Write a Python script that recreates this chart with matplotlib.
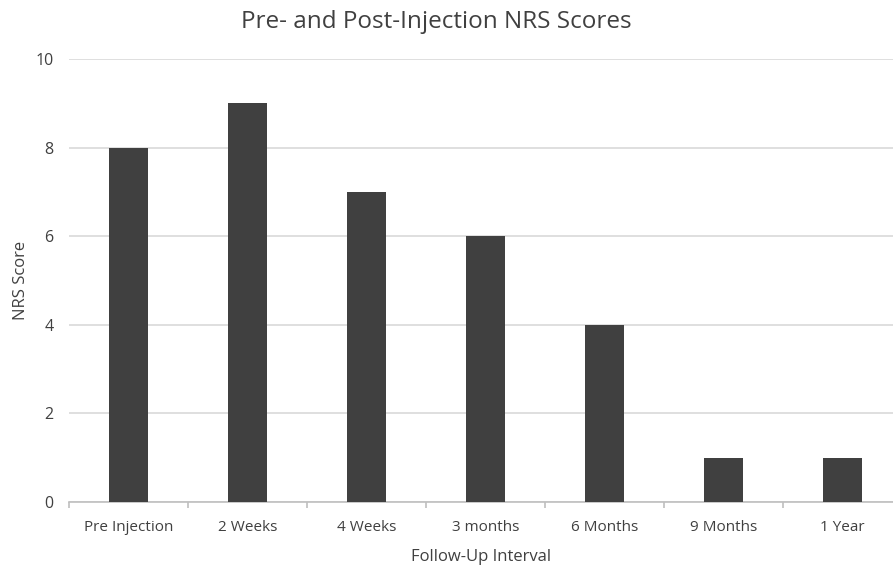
import matplotlib.pyplot as plt
import numpy as np

plt.rcParams['font.family'] = ['Open Sans', 'DejaVu Sans']

intervals = ['Pre Injection', '2 Weeks', '4 Weeks', '3 months', '6 Months', '9 Months', '1 Year']
nrs_scores = [8, 9, 7, 6, 4, 1, 1]

W, H = 893, 566
fig = plt.figure(figsize=(W / 100, H / 100), dpi=100)
ax = fig.add_axes([69 / W, (H - 502) / H, (W - 69) / W, (502 - 59) / H])

x = np.arange(len(intervals))
ax.bar(x, nrs_scores, width=0.32, color='#404040', zorder=3)

ax.set_yticks(np.arange(0, 11, 2))
ax.yaxis.grid(True, color='#d9d9d9', linewidth=1.2, zorder=0)

ax.set_xticks(x, intervals)
ax.set_xticks(np.arange(len(intervals) + 1) - 0.5, minor=True)
ax.tick_params(axis='x', which='major', length=0, pad=13, labelsize=11, labelcolor='#404040')
ax.tick_params(axis='x', which='minor', length=4, color='#bfbfbf', width=1.2)
ax.tick_params(axis='y', length=0, pad=11, labelsize=11.5, labelcolor='#404040')

# category width ~119 px, last part clipped by the figure edge
ax.set_xlim(-0.5, -0.5 + (W - 69) / 119)
ax.set_ylim(0, 10)

for s in ['top', 'right', 'left']:
    ax.spines[s].set_visible(False)
ax.spines['bottom'].set_color('#bfbfbf')
ax.spines['bottom'].set_linewidth(1.2)

ax.set_xlabel('Follow-Up Interval', fontsize=12, color='#404040', labelpad=10)
ax.set_ylabel('NRS Score', fontsize=12, color='#404040', labelpad=5)
fig.text(436 / W, 1 - 22 / H, 'Pre- and Post-Injection NRS Scores',
         ha='center', va='center', fontsize=17.5, color='#404040')

fig.savefig('out.png', dpi=100)
